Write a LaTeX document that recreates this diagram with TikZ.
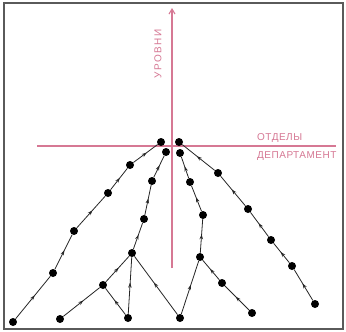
\documentclass[tikz,border=0pt]{standalone}
\usepackage{fontspec}
\setmainfont{Liberation Sans}
\newfontfamily\labfont[LetterSpace=5]{Liberation Sans}
\newfontfamily\vlabfont[LetterSpace=16]{Liberation Sans}
\usetikzlibrary{arrows.meta,decorations.markings}
\definecolor{axpink}{RGB}{214,120,148}
\definecolor{frameg}{RGB}{90,90,90}
\tikzset{
  x=1pt,y=-1pt,
  dot/.style={circle,fill=black,inner sep=0pt,minimum width=8pt,minimum height=7pt},
  link/.style={line width=0.8pt,draw=black!85,postaction={decorate},
    decoration={markings,mark=at position 0.55 with {\arrow{Stealth[length=5pt,width=3.5pt]}}}},
  axis/.style={draw=axpink,line width=1.1pt},
  lab/.style={text=axpink,font=\fontsize{10}{11}\selectfont\labfont,inner sep=0pt},
  vlab/.style={text=axpink,font=\fontsize{10}{11}\selectfont\vlabfont,inner sep=0pt}
}
\begin{document}
\begin{tikzpicture}
\useasboundingbox (0,0) rectangle (346,332);
\fill[white] (0,0) rectangle (346,332);
\draw[frameg,line width=1.2pt] (4,3) rectangle (343,329);
% axes
\coordinate (vb) at (172,268);
\coordinate (vt) at (172,8);
\coordinate (hl) at (37,146);
\coordinate (hr) at (336,146);
\draw[axis] (hl) -- (hr);
\draw[axis,-{Straight Barb[length=5pt,width=6pt]}] (vb) -- (vt);
\node[vlab,rotate=90] (ylab) at (158,54) {УРОВНИ};
\node[lab,anchor=west] (xlab1) at (257,138) {ОТДЕЛЫ};
\node[lab,anchor=west] (xlab2) at (257,156) {ДЕПАРТАМЕНТ};
% top cluster
\node[dot] (t1) at (161,142) {};
\node[dot] (t2) at (179,142) {};
\node[dot] (t3) at (166,152) {};
\node[dot] (t4) at (180,153) {};
% left outer chain
\node[dot] (a1) at (13,322) {};
\node[dot] (a2) at (53,273) {};
\node[dot] (a3) at (74,231) {};
\node[dot] (a4) at (108,193) {};
\node[dot] (a5) at (130,165) {};
% second chain
\node[dot] (b1) at (60,319) {};
\node[dot] (b2) at (103,285) {};
\node[dot] (b3) at (132,253) {};
\node[dot] (b4) at (144,219) {};
\node[dot] (b5) at (152,181) {};
\node[dot] (c1) at (128,318) {};
\node[dot] (d1) at (180,318) {};
% right inner
\node[dot] (e1) at (200,257) {};
\node[dot] (e2) at (203,215) {};
\node[dot] (e3) at (190,182) {};
\node[dot] (f1) at (222,283) {};
\node[dot] (f2) at (252,313) {};
% right outer
\node[dot] (g1) at (218,173) {};
\node[dot] (g2) at (248,209) {};
\node[dot] (g3) at (271,240) {};
\node[dot] (g4) at (292,266) {};
\node[dot] (g5) at (315,304) {};
% links
\draw[link] (a1) -- (a2);
\draw[link] (a2) -- (a3);
\draw[link] (a3) -- (a4);
\draw[link] (a4) -- (a5);
\draw[link] (a5) -- (t1);
\draw[link] (b1) -- (b2);
\draw[link] (b2) -- (b3);
\draw[link] (b3) -- (b4);
\draw[link] (b4) -- (b5);
\draw[link] (b5) -- (t3);
\draw[link] (c1) -- (b2);
\draw[link] (c1) -- (b3);
\draw[link] (d1) -- (b3);
\draw[link] (d1) -- (e1);
\draw[link] (e1) -- (e2);
\draw[link] (e2) -- (e3);
\draw[link] (e3) -- (t4);
\draw[link] (f2) -- (f1);
\draw[link] (f1) -- (e1);
\draw[link] (g5) -- (g4);
\draw[link] (g4) -- (g3);
\draw[link] (g3) -- (g2);
\draw[link] (g2) -- (g1);
\draw[link] (g1) -- (t2);
\end{tikzpicture}
\end{document}
